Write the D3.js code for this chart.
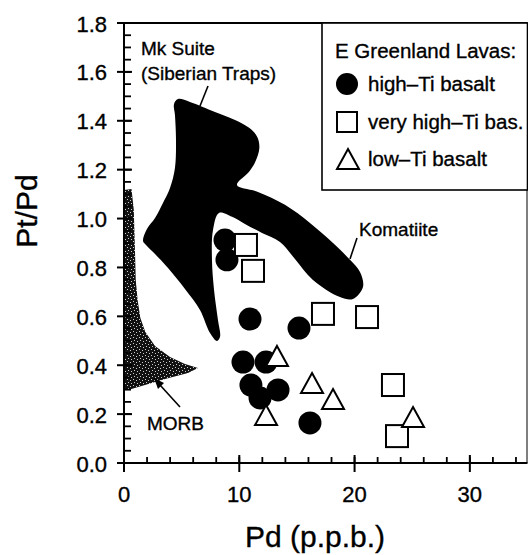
<!DOCTYPE html>
<html>
<head>
<meta charset="utf-8">
<script src="https://cdn.jsdelivr.net/npm/d3@7"></script>
<style>
  html, body { margin: 0; padding: 0; background: #fff; }
  svg { display: block; font-family: "Liberation Sans", Arial, Helvetica, sans-serif; }
  svg text { stroke: #000; stroke-width: 0.35px; }
</style>
</head>
<body>
<svg id="chart" width="528" height="555"></svg>
<script>
// Pt/Pd versus Pd for E Greenland lavas, with reference fields

// Sample groups: [Pd (ppb), Pt/Pd]
const highTi = [
  [8.76, 0.912], [8.93, 0.831], [10.93, 0.589], [15.18, 0.552],
  [10.32, 0.413], [12.32, 0.413], [11.01, 0.319], [13.36, 0.299],
  [11.80, 0.266], [16.13, 0.164]
];
const veryHighTi = [
  [10.58, 0.892], [11.19, 0.786], [17.26, 0.610], [21.08, 0.597],
  [23.33, 0.319], [23.68, 0.110]
];
const lowTi = [
  [13.27, 0.438], [16.31, 0.327], [18.13, 0.262], [12.32, 0.196],
  [25.07, 0.188]
];

// Mk Suite (Siberian Traps) + komatiite field outline
const mkKomatiiteField = [
  [4.68, 1.489], [5.72, 1.477], [7.89, 1.436], [9.63, 1.403], [10.85, 1.371],
  [11.56, 1.334], [11.74, 1.289], [11.39, 1.232], [10.85, 1.191], [9.80, 1.137],
  [11.62, 1.109], [13.96, 1.056], [16.13, 0.982], [18.13, 0.900], [19.60, 0.831],
  [20.47, 0.781], [20.73, 0.720], [19.86, 0.671], [18.73, 0.679], [16.39, 0.749],
  [14.83, 0.835], [13.53, 0.904], [11.97, 0.941], [10.49, 0.978], [9.37, 1.007],
  [8.24, 1.023], [7.72, 0.953], [7.63, 0.831], [7.81, 0.708], [8.15, 0.585],
  [8.33, 0.516], [8.07, 0.499], [7.46, 0.532], [6.59, 0.626], [5.29, 0.712],
  [3.82, 0.798], [2.69, 0.855], [1.91, 0.892], [1.65, 0.908], [1.99, 0.957],
  [2.69, 1.002], [3.38, 1.064], [3.99, 1.125], [4.42, 1.207], [4.51, 1.322],
  [4.42, 1.424], [4.34, 1.469]
];

// MORB field outline
const morbField = [
  [0, 1.117], [0.65, 1.121], [0.85, 1.035], [0.95, 0.872], [1.02, 0.749],
  [1.18, 0.667], [1.42, 0.593], [1.85, 0.536], [2.69, 0.479], [3.99, 0.434],
  [5.29, 0.405], [6.42, 0.389], [5.55, 0.368], [3.56, 0.344], [1.82, 0.319],
  [0.35, 0.299], [0, 0.299]
];

// Axis ticks
const xMajor = [0, 10, 20, 30];
const xMinor = d3.range(0, 35.01, 2);
const yMajor = [0, 0.2, 0.4, 0.6, 0.8, 1.0, 1.2, 1.4, 1.6, 1.8];
const yMinor = d3.range(0, 1.801, 0.05);

// Legend entries
const legendTitle = "E Greenland Lavas:";
const legendItems = [
  { label: "high\u2013Ti basalt", shape: "circle" },
  { label: "very high\u2013Ti bas.", shape: "square" },
  { label: "low\u2013Ti basalt", shape: "triangle" }
];

const svg = d3.select("#chart");
const x = d3.scaleLinear().domain([0, 35]).range([124, 527.5]);
const y = d3.scaleLinear().domain([0, 1.8]).range([463, 23]);

// stipple texture for MORB field
const defs = svg.append("defs");
const pat = defs.append("pattern")
  .attr("id", "stipple").attr("patternUnits", "userSpaceOnUse")
  .attr("width", 6).attr("height", 6);
pat.append("rect").attr("width", 6).attr("height", 6).attr("fill", "#111");
[[1, 1], [4, 2], [2, 4], [5, 5]].forEach(([px, py]) => {
  pat.append("rect").attr("x", px).attr("y", py).attr("width", 1).attr("height", 1).attr("fill", "#ccc");
});

const fieldLine = d3.line().x(d => x(d[0])).y(d => y(d[1]))
  .curve(d3.curveCatmullRomClosed.alpha(0.5));
const morbLine = d3.line().x(d => x(d[0])).y(d => y(d[1]))
  .curve(d3.curveLinearClosed);

svg.append("path").attr("d", morbLine(morbField)).attr("fill", "url(#stipple)");
svg.append("path").attr("d", fieldLine(mkKomatiiteField)).attr("fill", "#000");

// Frame / axes
const g = svg.append("g").attr("stroke", "#000").attr("fill", "none");
g.append("line").attr("x1", x(0)).attr("x2", x(0)).attr("y1", y(0) + 1).attr("y2", y(1.8)).attr("stroke-width", 2);
g.append("line").attr("x1", x(0) - 1).attr("x2", x(35)).attr("y1", y(0)).attr("y2", y(0)).attr("stroke-width", 2);
g.append("line").attr("x1", x(0) - 1).attr("x2", x(35)).attr("y1", y(1.8)).attr("y2", y(1.8)).attr("stroke-width", 2);
g.append("line").attr("x1", x(35) - 0.5).attr("x2", x(35) - 0.5).attr("y1", y(1.8)).attr("y2", y(0)).attr("stroke-width", 1);

// y ticks
yMinor.forEach(v => {
  g.append("line").attr("x1", x(0)).attr("x2", x(0) + 7).attr("y1", y(v)).attr("y2", y(v)).attr("stroke-width", 1.8);
});
yMajor.forEach(v => {
  g.append("line").attr("x1", x(0) - 7).attr("x2", x(0) + 8).attr("y1", y(v)).attr("y2", y(v)).attr("stroke-width", 2);
});
// x ticks
xMinor.forEach(v => {
  g.append("line").attr("x1", x(v)).attr("x2", x(v)).attr("y1", y(0)).attr("y2", y(0) - 6).attr("stroke-width", 1.8);
});
xMajor.forEach(v => {
  g.append("line").attr("x1", x(v)).attr("x2", x(v)).attr("y1", y(0) + 9).attr("y2", y(0) - 8).attr("stroke-width", 2);
});

// tick labels
svg.append("g").selectAll("text").data(yMajor).join("text")
  .attr("x", 107).attr("y", d => y(d) + 8.5)
  .attr("text-anchor", "end").attr("font-size", 22).attr("fill", "#000")
  .text(d => d.toFixed(1));
svg.append("g").selectAll("text").data(xMajor).join("text")
  .attr("x", d => x(d)).attr("y", 502)
  .attr("text-anchor", "middle").attr("font-size", 22).attr("fill", "#000")
  .text(d => d);

// axis titles
svg.append("text").attr("x", 315).attr("y", 547).attr("text-anchor", "middle")
  .attr("font-size", 30).attr("fill", "#000").text("Pd (p.p.b.)");
svg.append("text").attr("transform", "translate(37,211) rotate(-90)").attr("text-anchor", "middle")
  .attr("font-size", 30).attr("fill", "#000").text("Pt/Pd");

// field labels and leaders
const ann = svg.append("g").attr("fill", "#000").attr("font-size", 19);
ann.append("text").attr("x", 141).attr("y", 55).text("Mk Suite");
ann.append("text").attr("x", 141).attr("y", 80).text("(Siberian Traps)");
ann.append("text").attr("x", 359).attr("y", 236).text("Komatiite");
ann.append("text").attr("x", 147).attr("y", 430).text("MORB");
const lead = svg.append("g").attr("stroke", "#000").attr("stroke-width", 1.6);
lead.append("line").attr("x1", 208).attr("y1", 86).attr("x2", 200).attr("y2", 106);
lead.append("line").attr("x1", 357).attr("y1", 238).attr("x2", 350).attr("y2", 259);
lead.append("line").attr("x1", 180).attr("y1", 407).attr("x2", 160).attr("y2", 385);
svg.append("path").attr("d", "M154,378 L164,383 L158,389 Z").attr("fill", "#000");

// symbols
const sq = 22, triW = 22, triH = 20;
function triPath(cx, cy) {
  return `M${cx},${cy - triH / 2} L${cx + triW / 2},${cy + triH / 2} L${cx - triW / 2},${cy + triH / 2} Z`;
}
svg.append("g").selectAll("circle").data(highTi).join("circle")
  .attr("cx", d => x(d[0])).attr("cy", d => y(d[1])).attr("r", 11.5).attr("fill", "#000");
svg.append("g").selectAll("rect").data(veryHighTi).join("rect")
  .attr("x", d => x(d[0]) - sq / 2).attr("y", d => y(d[1]) - sq / 2)
  .attr("width", sq).attr("height", sq)
  .attr("fill", "#fff").attr("stroke", "#000").attr("stroke-width", 2);
svg.append("g").selectAll("path").data(lowTi).join("path")
  .attr("d", d => triPath(x(d[0]), y(d[1])))
  .attr("fill", "#fff").attr("stroke", "#000").attr("stroke-width", 2).attr("stroke-linejoin", "miter");

// legend
const lg = svg.append("g");
lg.append("rect").attr("x", 322).attr("y", 23).attr("width", 205.5).attr("height", 167)
  .attr("fill", "#fff").attr("stroke", "#000").attr("stroke-width", 1.6);
lg.append("text").attr("x", 335).attr("y", 58).attr("font-size", 20.5).attr("fill", "#000").text(legendTitle);
const rowY = [84, 122, 159];
legendItems.forEach((it, i) => {
  const cy = rowY[i];
  if (it.shape === "circle") {
    lg.append("circle").attr("cx", 347).attr("cy", cy).attr("r", 11).attr("fill", "#000");
  } else if (it.shape === "square") {
    lg.append("rect").attr("x", 337).attr("y", cy - 10).attr("width", 20).attr("height", 20)
      .attr("fill", "#fff").attr("stroke", "#000").attr("stroke-width", 2);
  } else {
    lg.append("path").attr("d", triPath(348, cy)).attr("fill", "#fff").attr("stroke", "#000").attr("stroke-width", 2);
  }
  lg.append("text").attr("x", 368).attr("y", cy + 7).attr("font-size", 20.5).attr("fill", "#000").text(it.label);
});
</script>
</body>
</html>
